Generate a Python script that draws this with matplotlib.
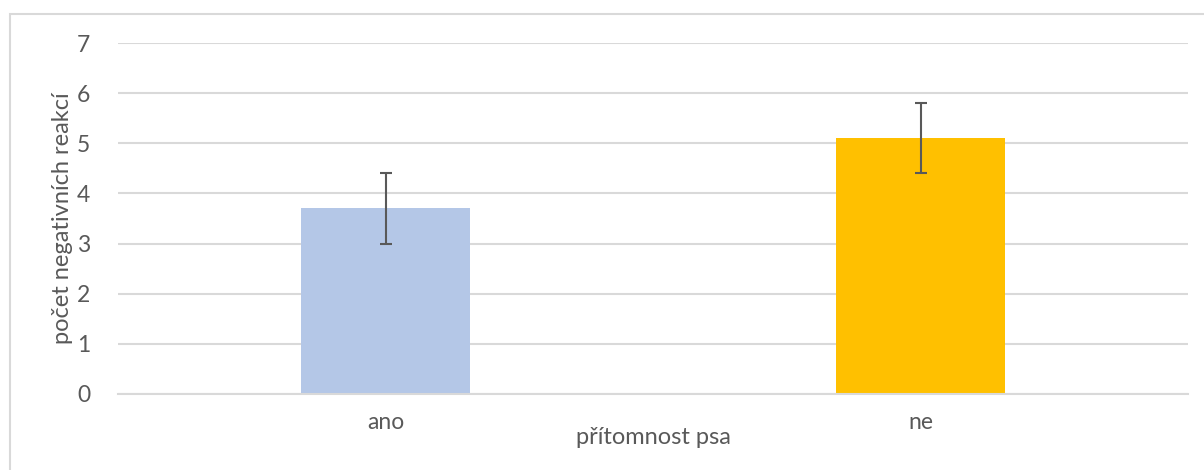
import numpy as np
import matplotlib.pyplot as plt
from matplotlib.patches import Rectangle

# data
categories = ['ano', 'ne']
values = [3.7, 5.1]
errors = [0.7, 0.7]
bar_colors = ['#B4C7E7', '#FFC000']
y_ticks = [0, 1, 2, 3, 4, 5, 6, 7]

plt.rcParams['font.family'] = ['Lato', 'DejaVu Sans']
txt = '#595959'

fig = plt.figure(figsize=(12.04, 4.70), dpi=100)
ax = fig.add_axes([118/1204, 1 - 394/470, (1188 - 118)/1204, (394 - 43)/470])

x = np.arange(len(categories))
ax.bar(x, values, width=0.317, color=bar_colors, zorder=2,
       yerr=errors, error_kw=dict(ecolor='#595959', elinewidth=1.5, capsize=4.5, capthick=1.5, zorder=3))

ax.set_xlim(-0.5, 1.5)
ax.set_ylim(0, 7)
ax.set_yticks(y_ticks)
ax.set_xticks(x)
ax.set_xticklabels(categories)
ax.grid(axis='y', color='#D9D9D9', linewidth=1.5, zorder=0)
ax.set_axisbelow(True)
for s in ['top', 'right', 'left']:
    ax.spines[s].set_visible(False)
ax.spines['bottom'].set_color('#D9D9D9')
ax.spines['bottom'].set_linewidth(1.5)
ax.tick_params(axis='both', length=0, labelsize=16.5, colors=txt)
ax.tick_params(axis='y', pad=20)
ax.tick_params(axis='x', pad=13)

ax.set_xlabel('přítomnost psa', fontsize=17, color=txt, labelpad=-4)
ax.set_ylabel('počet negativních reakcí', fontsize=17, color=txt, labelpad=3)

# light frame around the chart area, like the Excel chart border
fig.patches.append(Rectangle((10/1204, -0.1), 1.1, 1 - 14/470 + 0.1, transform=fig.transFigure,
                             fill=False, edgecolor='#D9D9D9', linewidth=1.5))

fig.savefig('out.png', dpi=100)
